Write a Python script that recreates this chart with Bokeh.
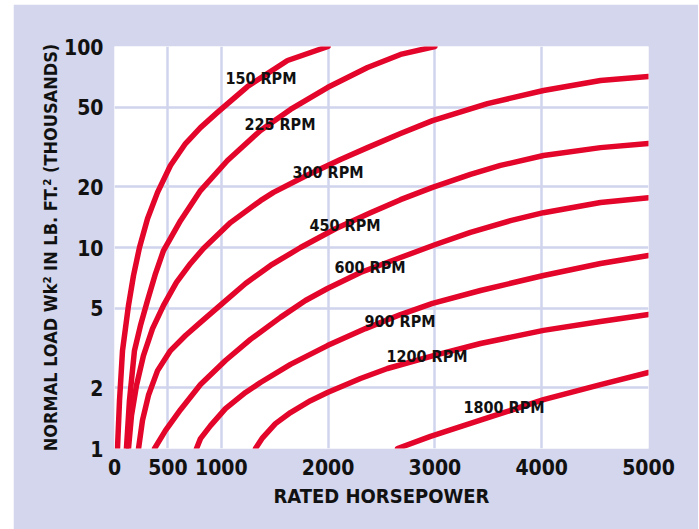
from bokeh.plotting import figure
from bokeh.models import FixedTicker, CustomJSTickFormatter, Spacer, Range1d
from bokeh.layouts import row, column
from bokeh.embed import file_html
from bokeh.resources import INLINE
from bokeh.core.properties import value

# ---- data ----
rpm_150_hp = [28, 47, 75, 131, 178, 234, 309, 403, 524, 665, 805, 964, 1245, 1620, 2000]
rpm_150_wk = [1.0, 1.73, 3.07, 5.15, 7.26, 10.0, 13.9, 18.8, 25.6, 32.9, 39.5, 47.0, 63.2, 85.2, 100]

rpm_225_hp = [112, 140, 187, 243, 309, 384, 459, 618, 805, 1058, 1367, 1648, 1994, 2369, 2678, 3000]
rpm_225_wk = [1.0, 1.73, 3.07, 4.09, 5.45, 7.42, 9.66, 13.6, 19.2, 27.1, 38.2, 48.6, 62.5, 78.6, 91.3, 100]

rpm_300_hp = [131, 159, 206, 271, 356, 459, 580, 712, 833, 1086, 1367, 1489, 1798, 2116, 2369, 2678, 2978, 3492, 4017, 4551, 5000]
rpm_300_wk = [1.0, 1.46, 2.06, 2.90, 3.95, 5.15, 6.70, 8.33, 9.89, 13.3, 17.1, 18.8, 22.8, 27.4, 31.4, 36.9, 42.8, 52.0, 60.4, 67.7, 70.9]

rpm_450_hp = [225, 262, 318, 403, 524, 665, 805, 1011, 1227, 1461, 1742, 2069, 2397, 2678, 2978, 3333, 3614, 4017, 4551, 5000]
rpm_450_wk = [1.0, 1.38, 1.84, 2.44, 3.07, 3.65, 4.24, 5.27, 6.62, 8.14, 10.0, 12.4, 14.9, 17.3, 19.9, 23.1, 25.6, 28.7, 31.4, 32.9]

rpm_600_hp = [375, 478, 618, 805, 1039, 1273, 1554, 1788, 1994, 2303, 2678, 3006, 3333, 3708, 4017, 4551, 5000]
rpm_600_wk = [1.0, 1.23, 1.56, 2.08, 2.74, 3.49, 4.49, 5.45, 6.25, 7.51, 8.92, 10.35, 11.9, 13.6, 14.9, 16.75, 17.7]

rpm_900_hp = [768, 805, 899, 1039, 1227, 1367, 1648, 1994, 2350, 2678, 2978, 3427, 4017, 4551, 5000]
rpm_900_wk = [1.0, 1.12, 1.30, 1.58, 1.90, 2.13, 2.62, 3.25, 3.95, 4.64, 5.27, 6.11, 7.26, 8.33, 9.13]

rpm_1200_hp = [1320, 1386, 1507, 1648, 1835, 1994, 2303, 2556, 2987, 3427, 4017, 4551, 5000]
rpm_1200_wk = [1.0, 1.13, 1.33, 1.51, 1.73, 1.90, 2.23, 2.50, 2.90, 3.33, 3.87, 4.28, 4.64]

rpm_1800_hp = [2650, 2959, 3268, 3614, 4017, 4551, 5000]
rpm_1800_wk = [1.0, 1.15, 1.30, 1.49, 1.75, 2.08, 2.39]

label_text = ["150 RPM", "225 RPM", "300 RPM", "450 RPM", "600 RPM", "900 RPM", "1200 RPM", "1800 RPM"]
label_hp = [1039, 1217, 1667, 1826, 2060, 2341, 2547, 3268]
label_wk = [69.3, 40.9, 23.6, 12.9, 7.95, 4.28, 2.87, 1.6]

x_ticks = [0, 500, 1000, 2000, 3000, 4000, 5000]
y_ticks = [1, 2, 5, 10, 20, 50, 100]

curves = [
    (rpm_150_hp, rpm_150_wk), (rpm_225_hp, rpm_225_wk), (rpm_300_hp, rpm_300_wk),
    (rpm_450_hp, rpm_450_wk), (rpm_600_hp, rpm_600_wk), (rpm_900_hp, rpm_900_wk),
    (rpm_1200_hp, rpm_1200_wk), (rpm_1800_hp, rpm_1800_wk),
]

BG = "#d3d6ec"
GRID = "#d0d4ec"
RED = "#e3052a"
FONT = "DejaVu Sans Condensed, Roboto, sans-serif"

p = figure(width=685, height=525, y_axis_type="log",
           x_range=Range1d(0, 5000), y_range=Range1d(1, 100),
           output_backend="svg", toolbar_location=None,
           min_border_left=101, min_border_right=50,
           min_border_top=42, min_border_bottom=81)
p.background_fill_color = "white"
p.border_fill_color = BG
p.outline_line_color = None

for hp, wk in curves:
    p.line(hp, wk, line_color=RED, line_width=5.5, line_cap="round", line_join="round")

p.text(x=label_hp, y=label_wk, text=label_text, text_font=value(FONT),
       text_font_style="bold", text_font_size="16px", text_color="#111111",
       text_baseline="middle", text_align="left")

p.xaxis.ticker = FixedTicker(ticks=x_ticks)
p.yaxis.ticker = FixedTicker(ticks=y_ticks)
p.yaxis.formatter = CustomJSTickFormatter(code="return String(tick);")
p.xgrid.ticker = FixedTicker(ticks=x_ticks[1:-1])
p.ygrid.ticker = FixedTicker(ticks=y_ticks[1:-1])
p.xgrid.grid_line_color = GRID
p.ygrid.grid_line_color = GRID
p.xgrid.grid_line_width = 2.5
p.ygrid.grid_line_width = 2.5

for ax in (p.xaxis[0], p.yaxis[0]):
    ax.axis_line_color = None
    ax.major_tick_line_color = None
    ax.minor_tick_line_color = None
    ax.major_tick_out = 0
    ax.major_tick_in = 0
    ax.minor_tick_out = 0
    ax.major_label_text_font = FONT
    ax.major_label_text_font_style = "bold"
    ax.major_label_text_font_size = "21px"
    ax.major_label_text_color = "#111111"
    ax.axis_label_text_font = FONT
    ax.axis_label_text_font_style = "bold"
    ax.axis_label_text_color = "#111111"

p.xaxis.axis_label = "RATED HORSEPOWER"
p.yaxis.axis_label = "NORMAL LOAD Wk² IN LB. FT.² (THOUSANDS)"
p.xaxis.axis_label_text_font_size = "20px"
p.yaxis.axis_label_text_font_size = "18px"
p.xaxis.major_label_standoff = 10
p.yaxis.major_label_standoff = 11
p.xaxis.axis_label_standoff = 6
p.yaxis.axis_label_standoff = 0

layout = column(Spacer(width=10, height=4), row(Spacer(width=13, height=525), p))
open("out.html", "w").write(file_html(layout, INLINE))
